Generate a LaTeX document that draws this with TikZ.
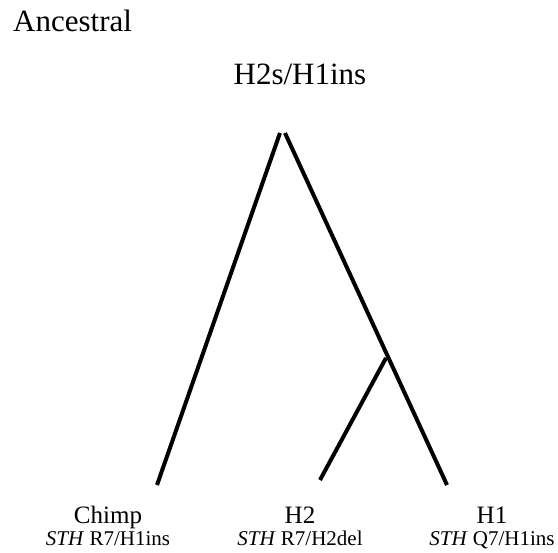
\documentclass[tikz,border=0pt]{standalone}
\usepackage{fontspec}
\setmainfont{Liberation Serif}

\tikzset{
  branch/.style={line width=4pt},
  heading/.style={anchor=base, inner sep=0pt, font=\fontsize{31}{37}\selectfont},
  taxon/.style={anchor=base, inner sep=0pt, font=\fontsize{25}{30}\selectfont},
  allele/.style={anchor=base, inner sep=0pt, font=\fontsize{21}{25}\selectfont},
}

\begin{document}
\begin{tikzpicture}[x=1pt, y=-1pt]
\useasboundingbox (0,0) rectangle (558,553);

% Headings
\node[heading, anchor=base west] (anc) at (13,32) {Ancestral};
\node[heading] (root) at (300,85) {H2s/H1ins};

% Branch ends
\coordinate (topl) at (280,133);
\coordinate (topr) at (285,133);
\coordinate (split) at (386,358);
\coordinate (chimpend) at (157,485);
\coordinate (htwoend) at (320,480);
\coordinate (honeend) at (447,485);

% Branches
\draw[branch] (topl) -- (chimpend);
\draw[branch] (topr) -- (honeend);
\draw[branch] (split) -- (htwoend);

% Leaf labels
\node[taxon] (chimp) at (108,524) {Chimp};
\node[allele] (chimpseq) at (108,546) {\textit{STH} R7/H1ins};
\node[taxon] (htwo) at (300,524) {H2};
\node[allele] (htwoseq) at (300,546) {\textit{STH} R7/H2del};
\node[taxon] (hone) at (492,524) {H1};
\node[allele] (honeseq) at (492,546) {\textit{STH} Q7/H1ins};

\end{tikzpicture}
\end{document}
